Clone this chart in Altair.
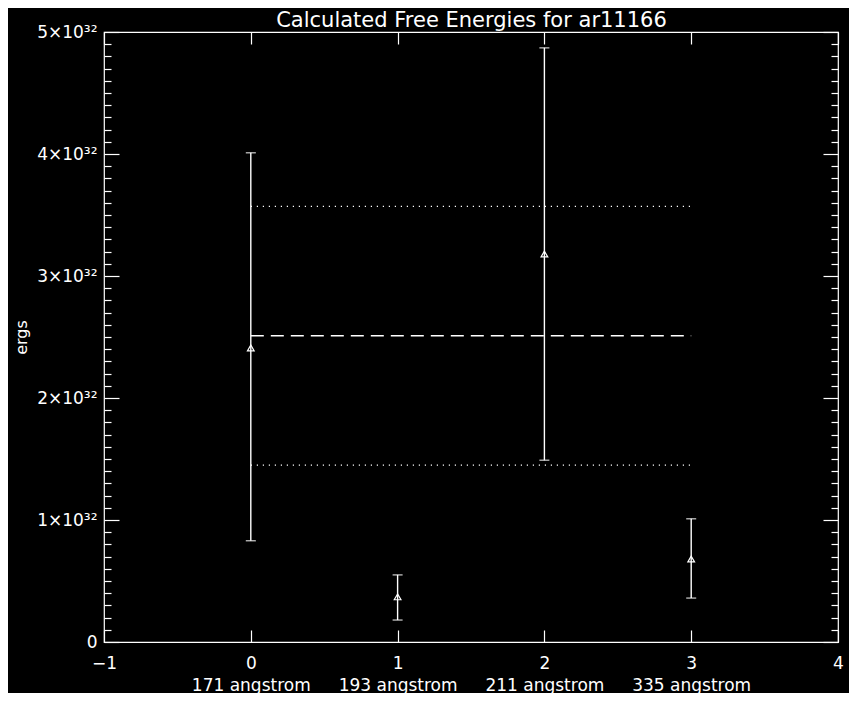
import altair as alt
import pandas as pd

# ---- data ----
positions = [0, 1, 2, 3]
wavelengths = ["171 angstrom", "193 angstrom", "211 angstrom", "335 angstrom"]
energy = [2.41e32, 0.37e32, 3.18e32, 0.68e32]
err_low = [0.83e32, 0.18e32, 1.49e32, 0.36e32]
err_high = [4.01e32, 0.55e32, 4.87e32, 1.01e32]
mean_energy = [2.51e32]
band_values = [1.45e32, 3.57e32]
line_start = 0
line_end = 3
x_ticks = [-1, 0, 1, 2, 3, 4]
y_major = [0, 1e32, 2e32, 3e32, 4e32, 5e32]
y_minor = [i * 1e31 for i in range(51) if i % 10]
title_text = "Calculated Free Energies for ar11166"

FONT = "DejaVu Sans"
W = "white"

df = pd.DataFrame({"x": positions, "e": energy, "lo": err_low, "hi": err_high})
df_mean = pd.DataFrame({"y": mean_energy, "x": [line_start], "x2": [line_end]})
df_band = pd.DataFrame({"y": band_values, "x": [line_start] * 2, "x2": [line_end] * 2})

xs = alt.Scale(domain=[-1, 4], nice=False, zero=False)
ys = alt.Scale(domain=[0, 5e32], nice=False, zero=False)

# x labels: number over wavelength
expr = ""
for p, w in zip(positions, wavelengths):
    expr += f"datum.value == {p} ? ['{p}', '{w}'] : "
expr += "(datum.value < 0 ? '\u2212' + abs(datum.value) : '' + datum.value)"

common = dict(domain=False, grid=False, tickColor=W, tickWidth=1.2)

x_bottom = alt.Axis(orient="bottom", values=x_ticks, tickSize=12, offset=-12,
                    labelExpr=expr, labelColor=W, labelFont=FONT, labelFontSize=17,
                    labelPadding=13, labelLineHeight=22, labelOverlap=False,
                    labelFlush=False, title=None, **common)
x_top = alt.Axis(orient="top", values=x_ticks, tickSize=12, offset=-12,
                 labels=False, title=title_text, titleColor=W, titleFont=FONT,
                 titleFontSize=21, titleFontWeight="normal", titleAlign="center",
                 titleBaseline="alphabetic", titleX=367, titleY=-18, **common)

y_left = alt.Axis(orient="left", values=y_major, tickSize=15, offset=-15,
                  labelExpr="datum.value == 0 ? '0' : format(datum.value / 1e32, 'd') + '\u00d710\u00b3\u00b2'",
                  labelColor=W, labelFont=FONT, labelFontSize=17, labelPadding=7,
                  labelOverlap=False, labelFlush=False,
                  title="ergs", titleColor=W, titleFont=FONT, titleFontSize=16,
                  titleFontWeight="normal", titleAngle=270, titleBaseline="middle",
                  titleAlign="center", titleX=-98, titleY=305, **common)
y_left_minor = alt.Axis(orient="left", values=y_minor, tickSize=7, offset=-7,
                        labels=False, title=None, **common)
y_right = alt.Axis(orient="right", values=y_major, tickSize=15, offset=-15,
                   labels=False, title=None, **common)
y_right_minor = alt.Axis(orient="right", values=y_minor, tickSize=7, offset=-7,
                         labels=False, title=None, **common)

bars = alt.Chart(df).mark_rule(color=W, strokeWidth=1.4).encode(
    x=alt.X("x:Q", scale=xs, axis=x_bottom),
    y=alt.Y("lo:Q", scale=ys, axis=y_left),
    y2="hi:Q",
)
caps_lo = alt.Chart(df).mark_tick(color=W, size=10, thickness=1.4, orient="horizontal").encode(
    x=alt.X("x:Q", scale=xs, axis=x_top),
    y=alt.Y("lo:Q", scale=ys, axis=y_left_minor),
)
caps_hi = alt.Chart(df).mark_tick(color=W, size=10, thickness=1.4, orient="horizontal").encode(
    x=alt.X("x:Q", scale=xs, axis=None),
    y=alt.Y("hi:Q", scale=ys, axis=y_right),
)
points = alt.Chart(df).mark_point(shape="triangle-up", filled=False, color=W,
                                  size=45, strokeWidth=1.2, opacity=1).encode(
    x=alt.X("x:Q", scale=xs, axis=None),
    y=alt.Y("e:Q", scale=ys, axis=y_right_minor),
)
mean_line = alt.Chart(df_mean).mark_rule(color=W, strokeWidth=1.4, strokeDash=[13, 7]).encode(
    x=alt.X("x:Q", scale=xs, axis=None),
    x2="x2:Q",
    y=alt.Y("y:Q", scale=ys, axis=None),
)
band_lines = alt.Chart(df_band).mark_rule(color=W, strokeWidth=1.2, strokeDash=[1.2, 4.8]).encode(
    x=alt.X("x:Q", scale=xs, axis=None),
    x2="x2:Q",
    y=alt.Y("y:Q", scale=ys, axis=None),
)

chart = alt.layer(bars, caps_lo, caps_hi, points, mean_line, band_lines).resolve_axis(
    x="independent", y="independent"
).properties(
    width=734,
    height=610,
    autosize=alt.AutoSizeParams(type="none"),
    padding={"left": 96, "top": 24, "right": 11, "bottom": 51},
    background="black",
).configure_view(stroke=W, strokeWidth=1.2)

chart.save("out.html", embed_options={"renderer": "svg", "actions": False})
